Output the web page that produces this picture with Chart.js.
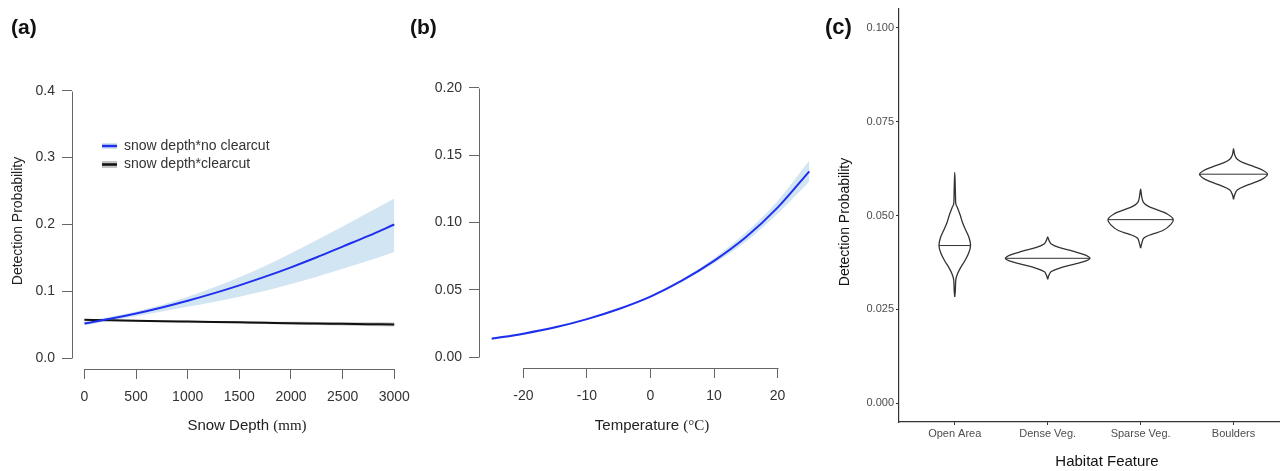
<!DOCTYPE html>
<html>
<head>
<meta charset="utf-8">
<script src="https://cdn.jsdelivr.net/npm/chart.js@4.4.1/dist/chart.umd.min.js"></script>
<style>
html, body { margin: 0; padding: 0; background: #fff; }
body { width: 1280px; height: 471px; position: relative; overflow: hidden; }
canvas { position: absolute; top: 0; }
#chartA { left: 0; }
#chartB { left: 400px; }
#chartC { left: 820px; }
</style>
</head>
<body>
<canvas id="chartA" width="420" height="471"></canvas>
<canvas id="chartB" width="430" height="471"></canvas>
<canvas id="chartC" width="460" height="471"></canvas>
<script>
// === (a) snow depth ===
const snowDepth = [0, 250, 500, 750, 1000, 1250, 1500, 1750, 2000, 2250, 2500, 2750, 3000];
const noClearMean  = [0.052, 0.059, 0.067, 0.076, 0.086, 0.097, 0.109, 0.122, 0.136, 0.151, 0.167, 0.183, 0.200];
const noClearUpper = [0.055, 0.062, 0.070, 0.080, 0.092, 0.106, 0.121, 0.138, 0.157, 0.177, 0.197, 0.218, 0.239];
const noClearLower = [0.049, 0.056, 0.063, 0.070, 0.077, 0.084, 0.092, 0.101, 0.111, 0.122, 0.134, 0.146, 0.159];
const clearMean  = [0.0575, 0.0568, 0.0562, 0.0555, 0.0549, 0.0543, 0.0537, 0.0531, 0.0525, 0.0520, 0.0515, 0.0510, 0.0505];
const clearUpper = [0.0585, 0.0579, 0.0574, 0.0568, 0.0563, 0.0558, 0.0554, 0.0550, 0.0546, 0.0543, 0.0540, 0.0537, 0.0535];
const clearLower = [0.0565, 0.0557, 0.0550, 0.0542, 0.0535, 0.0528, 0.0520, 0.0512, 0.0504, 0.0497, 0.0490, 0.0483, 0.0475];
const snowTicks = [0, 500, 1000, 1500, 2000, 2500, 3000];
const probTicksA = [0, 0.1, 0.2, 0.3, 0.4];
const legendLabels = ['snow depth*no clearcut', 'snow depth*clearcut'];

// === (b) temperature ===
const temperature = [-25, -20, -15, -10, -5, 0, 5, 10, 15, 20, 25];
const tempMean  = [0.0137, 0.0175, 0.0222, 0.0283, 0.0358, 0.0450, 0.0570, 0.0715, 0.0890, 0.1110, 0.1380];
const tempUpper = [0.0145, 0.0183, 0.0230, 0.0290, 0.0365, 0.0458, 0.0580, 0.0735, 0.0925, 0.1160, 0.1460];
const tempLower = [0.0129, 0.0167, 0.0214, 0.0276, 0.0351, 0.0442, 0.0560, 0.0697, 0.0858, 0.1065, 0.1305];
const tempTicks = [-20, -10, 0, 10, 20];
const probTicksB = [0, 0.05, 0.10, 0.15, 0.20];

// === (c) habitat violins ===
const habitats = ['Open Area', 'Dense Veg.', 'Sparse Veg.', 'Boulders'];
const openAreaProb  = [0.0283, 0.030, 0.033, 0.0345, 0.036, 0.038, 0.040, 0.042, 0.044, 0.046, 0.048, 0.050, 0.052, 0.053, 0.055, 0.058, 0.0615];
const openAreaWidth = [0, 0.006, 0.012, 0.03, 0.06, 0.11, 0.15, 0.17, 0.155, 0.12, 0.085, 0.06, 0.03, 0.012, 0.008, 0.005, 0];
const denseVegProb  = [0.0330, 0.0340, 0.0350, 0.0360, 0.0370, 0.0380, 0.0386, 0.0395, 0.0405, 0.0415, 0.0425, 0.0435, 0.0443];
const denseVegWidth = [0, 0.012, 0.035, 0.13, 0.28, 0.42, 0.455, 0.40, 0.27, 0.12, 0.035, 0.012, 0];
const sparseVegProb  = [0.0413, 0.0425, 0.0440, 0.0450, 0.0460, 0.0475, 0.0490, 0.0505, 0.0515, 0.0525, 0.0535, 0.0550, 0.0570];
const sparseVegWidth = [0, 0.012, 0.035, 0.12, 0.24, 0.32, 0.35, 0.28, 0.18, 0.08, 0.03, 0.012, 0];
const bouldersProb  = [0.0543, 0.0555, 0.0568, 0.0580, 0.0590, 0.0600, 0.0610, 0.0620, 0.0630, 0.0640, 0.0650, 0.0662, 0.0678];
const bouldersWidth = [0, 0.012, 0.04, 0.14, 0.25, 0.33, 0.365, 0.32, 0.22, 0.11, 0.04, 0.012, 0];
const habitatMedians = [0.0420, 0.0386, 0.0489, 0.0610];
const medianHalfWidths = [0.17, 0.455, 0.35, 0.365];
const probTicksC = [0, 0.025, 0.05, 0.075, 0.1];

Chart.defaults.font.family = '"Liberation Sans", Arial, sans-serif';
Chart.defaults.animation = false;

const pts = (xs, ys) => xs.map((x, i) => ({ x: x, y: ys[i] }));
const setTicks = (vals) => (scale) => { scale.ticks = vals.map(v => ({ value: v })); };

// R-style axis lines (only from first to last tick)
const rAxes = {
    id: 'rAxes',
    afterDraw(chart) {
        const { ctx, chartArea, scales } = chart;
        const xs = scales.x.ticks, ys = scales.y.ticks;
        const left = Math.round(chartArea.left) + 0.5;
        const bottom = Math.round(chartArea.bottom) + 0.5;
        ctx.save();
        ctx.strokeStyle = '#666';
        ctx.lineWidth = 1;
        ctx.beginPath();
        ctx.moveTo(left, Math.round(scales.y.getPixelForValue(ys[0].value)) + 0.5);
        ctx.lineTo(left, Math.round(scales.y.getPixelForValue(ys[ys.length - 1].value)) + 0.5);
        ctx.moveTo(Math.round(scales.x.getPixelForValue(xs[0].value)) + 0.5, bottom);
        ctx.lineTo(Math.round(scales.x.getPixelForValue(xs[xs.length - 1].value)) + 0.5, bottom);
        ctx.stroke();
        ctx.restore();
    }
};

// texts: panel letters, axis titles
function drawTexts(ctx, o) {
    ctx.save();
    ctx.fillStyle = '#111';
    ctx.textBaseline = 'middle';
    ctx.font = 'bold ' + o.letterSize + 'px "Liberation Sans", Arial';
    ctx.textAlign = 'left';
    ctx.fillText(o.letter, o.letterX, o.letterY);

    // x title, sans part + serif unit
    ctx.fillStyle = o.titleColor;
    ctx.font = o.titleSize + 'px "Liberation Sans", Arial';
    const w1 = ctx.measureText(o.xTitle).width;
    let w2 = 0;
    if (o.xUnit) {
        ctx.font = o.titleSize + 'px "Liberation Serif", "Times New Roman", serif';
        w2 = ctx.measureText(o.xUnit).width;
    }
    const start = o.xTitleX - (w1 + w2) / 2;
    ctx.font = o.titleSize + 'px "Liberation Sans", Arial';
    ctx.fillText(o.xTitle, start, o.xTitleY);
    if (o.xUnit) {
        ctx.font = o.titleSize + 'px "Liberation Serif", "Times New Roman", serif';
        ctx.fillText(o.xUnit, start + w1, o.xTitleY);
    }

    if (o.yTitle) {
        ctx.font = o.yTitleSize + 'px "Liberation Sans", Arial';
        ctx.translate(o.yTitleX, o.yTitleY);
        ctx.rotate(-Math.PI / 2);
        ctx.textAlign = 'center';
        ctx.fillText(o.yTitle, 0, 0);
    }
    ctx.restore();
}

// === Panel (a) ===
const legendA = {
    id: 'legendA',
    afterDraw(chart) {
        const ctx = chart.ctx;
        ctx.save();
        // no clearcut
        ctx.fillStyle = '#cfe3f1';
        ctx.fillRect(102, 143, 15, 6);
        ctx.strokeStyle = '#1f2fee';
        ctx.lineWidth = 2.5;
        ctx.beginPath(); ctx.moveTo(102, 146); ctx.lineTo(117, 146); ctx.stroke();
        // clearcut
        ctx.fillStyle = '#c4c4c4';
        ctx.fillRect(102, 161, 15, 7);
        ctx.strokeStyle = '#111';
        ctx.beginPath(); ctx.moveTo(102, 164.5); ctx.lineTo(117, 164.5); ctx.stroke();
        ctx.fillStyle = '#333';
        ctx.font = '14px "Liberation Sans", Arial';
        ctx.textBaseline = 'middle';
        ctx.fillText(legendLabels[0], 124, 146);
        ctx.fillText(legendLabels[1], 124, 164);
        ctx.restore();
        drawTexts(ctx, {
            letter: '(a)', letterSize: 21, letterX: 11, letterY: 28,
            titleColor: '#222', titleSize: 15,
            xTitle: 'Snow Depth ', xUnit: '(mm)', xTitleX: 247, xTitleY: 426,
            yTitle: 'Detection Probability', yTitleSize: 14, yTitleX: 18, yTitleY: 221
        });
    }
};

const tickFontR = { size: 14 };

new Chart(document.getElementById('chartA'), {
    type: 'line',
    data: {
        datasets: [
            { data: pts(snowDepth, noClearMean), borderColor: '#1f2fee', borderWidth: 2, order: 0 },
            { data: pts(snowDepth, clearMean), borderColor: '#111', borderWidth: 2, order: 1 },
            { data: pts(snowDepth, noClearUpper), borderWidth: 0, borderColor: 'transparent', order: 4 },
            { data: pts(snowDepth, noClearLower), borderWidth: 0, borderColor: 'transparent',
              fill: 2, backgroundColor: '#d2e5f2', order: 4 },
            { data: pts(snowDepth, clearUpper), borderWidth: 0, borderColor: 'transparent', order: 3 },
            { data: pts(snowDepth, clearLower), borderWidth: 0, borderColor: 'transparent',
              fill: 4, backgroundColor: '#c4c4c4', order: 3 }
        ]
    },
    options: {
        responsive: false,
        layout: { padding: { left: 0, top: 80, right: 4, bottom: 0 } },
        elements: { point: { radius: 0 }, line: { cubicInterpolationMode: 'monotone' } },
        plugins: { legend: { display: false }, tooltip: { enabled: false } },
        scales: {
            x: {
                type: 'linear', min: -120, max: 3120,
                afterBuildTicks: setTicks(snowTicks),
                afterFit: (s) => { s.height = 102; },
                border: { display: false },
                grid: { drawOnChartArea: false, drawTicks: true, tickLength: 10, color: '#666' },
                ticks: { color: '#333', font: tickFontR, padding: 10, autoSkip: false, maxRotation: 0,
                         callback: (v) => String(v) }
            },
            y: {
                min: -0.016, max: 0.416,
                afterBuildTicks: setTicks(probTicksA),
                afterFit: (s) => { s.width = 72; },
                border: { display: false },
                grid: { drawOnChartArea: false, drawTicks: true, tickLength: 10, color: '#666' },
                ticks: { color: '#333', font: tickFontR, padding: 7, callback: (v) => v.toFixed(1) }
            }
        }
    },
    plugins: [rAxes, legendA]
});

// === Panel (b) ===
const textsB = {
    id: 'textsB',
    afterDraw(chart) {
        drawTexts(chart.ctx, {
            letter: '(b)', letterSize: 21, letterX: 10, letterY: 28,
            titleColor: '#222', titleSize: 15,
            xTitle: 'Temperature ', xUnit: '(\u00B0C)', xTitleX: 252, xTitleY: 426
        });
    }
};

new Chart(document.getElementById('chartB'), {
    type: 'line',
    data: {
        datasets: [
            { data: pts(temperature, tempMean), borderColor: '#1f2fee', borderWidth: 2, order: 0 },
            { data: pts(temperature, tempUpper), borderWidth: 0, borderColor: 'transparent', order: 2 },
            { data: pts(temperature, tempLower), borderWidth: 0, borderColor: 'transparent',
              fill: 1, backgroundColor: '#d2e5f2', order: 2 }
        ]
    },
    options: {
        responsive: false,
        layout: { padding: { left: 0, top: 77, right: 8, bottom: 0 } },
        elements: { point: { radius: 0 }, line: { cubicInterpolationMode: 'monotone' } },
        plugins: { legend: { display: false }, tooltip: { enabled: false } },
        scales: {
            x: {
                type: 'linear', min: -27, max: 27,
                afterBuildTicks: setTicks(tempTicks),
                afterFit: (s) => { s.height = 103; },
                border: { display: false },
                grid: { drawOnChartArea: false, drawTicks: true, tickLength: 10, color: '#666' },
                ticks: { color: '#333', font: tickFontR, padding: 10, autoSkip: false, maxRotation: 0,
                         callback: (v) => String(v) }
            },
            y: {
                min: -0.008, max: 0.208,
                afterBuildTicks: setTicks(probTicksB),
                afterFit: (s) => { s.width = 79; },
                border: { display: false },
                grid: { drawOnChartArea: false, drawTicks: true, tickLength: 10, color: '#666' },
                ticks: { color: '#333', font: tickFontR, padding: 7, callback: (v) => v.toFixed(2) }
            }
        }
    },
    plugins: [rAxes, textsB]
});

// === Panel (c) ===
function violinOutline(center, probs, widths) {
    const right = probs.map((p, i) => ({ x: center + widths[i], y: p }));
    const left = probs.map((p, i) => ({ x: center - widths[i], y: p })).reverse();
    return right.concat(left.slice(1));
}

const violinData = [
    [openAreaProb, openAreaWidth],
    [denseVegProb, denseVegWidth],
    [sparseVegProb, sparseVegWidth],
    [bouldersProb, bouldersWidth]
];

const violinSets = [];
violinData.forEach((v, i) => {
    violinSets.push({ data: violinOutline(i + 1, v[0], v[1]), borderColor: '#333', borderWidth: 1.3,
                      tension: 0.35, fill: false });
    violinSets.push({ data: [{ x: i + 1 - medianHalfWidths[i], y: habitatMedians[i] },
                             { x: i + 1 + medianHalfWidths[i], y: habitatMedians[i] }],
                      borderColor: '#333', borderWidth: 1, tension: 0, fill: false });
});

const textsC = {
    id: 'textsC',
    afterDraw(chart) {
        drawTexts(chart.ctx, {
            letter: '(c)', letterSize: 22, letterX: 5, letterY: 28,
            titleColor: '#111', titleSize: 15,
            xTitle: 'Habitat Feature', xTitleX: 287, xTitleY: 462,
            yTitle: 'Detection Probability', yTitleSize: 14, yTitleX: 25, yTitleY: 222
        });
    }
};

new Chart(document.getElementById('chartC'), {
    type: 'scatter',
    data: { datasets: violinSets },
    options: {
        responsive: false,
        layout: { padding: { left: 0, top: 9, right: 0, bottom: 0 } },
        elements: { point: { radius: 0 } },
        showLine: true,
        plugins: { legend: { display: false }, tooltip: { enabled: false } },
        scales: {
            x: {
                type: 'linear', min: 0.4, max: 4.5,
                afterBuildTicks: setTicks([1, 2, 3, 4]),
                afterFit: (s) => { s.height = 49; },
                border: { display: true, color: '#333', width: 1.2 },
                grid: { drawOnChartArea: false, drawTicks: true, tickLength: 3, color: '#333' },
                ticks: { color: '#4d4d4d', font: { size: 11 }, padding: 2, autoSkip: false, maxRotation: 0,
                         callback: (v) => habitats[v - 1] }
            },
            y: {
                min: -0.005, max: 0.105,
                afterBuildTicks: setTicks(probTicksC),
                afterFit: (s) => { s.width = 79; },
                border: { display: true, color: '#333', width: 1.2 },
                grid: { drawOnChartArea: false, drawTicks: true, tickLength: 3, color: '#333' },
                ticks: { color: '#4d4d4d', font: { size: 11 }, padding: 2, callback: (v) => v.toFixed(3) }
            }
        }
    },
    plugins: [textsC]
});
</script>
</body>
</html>
